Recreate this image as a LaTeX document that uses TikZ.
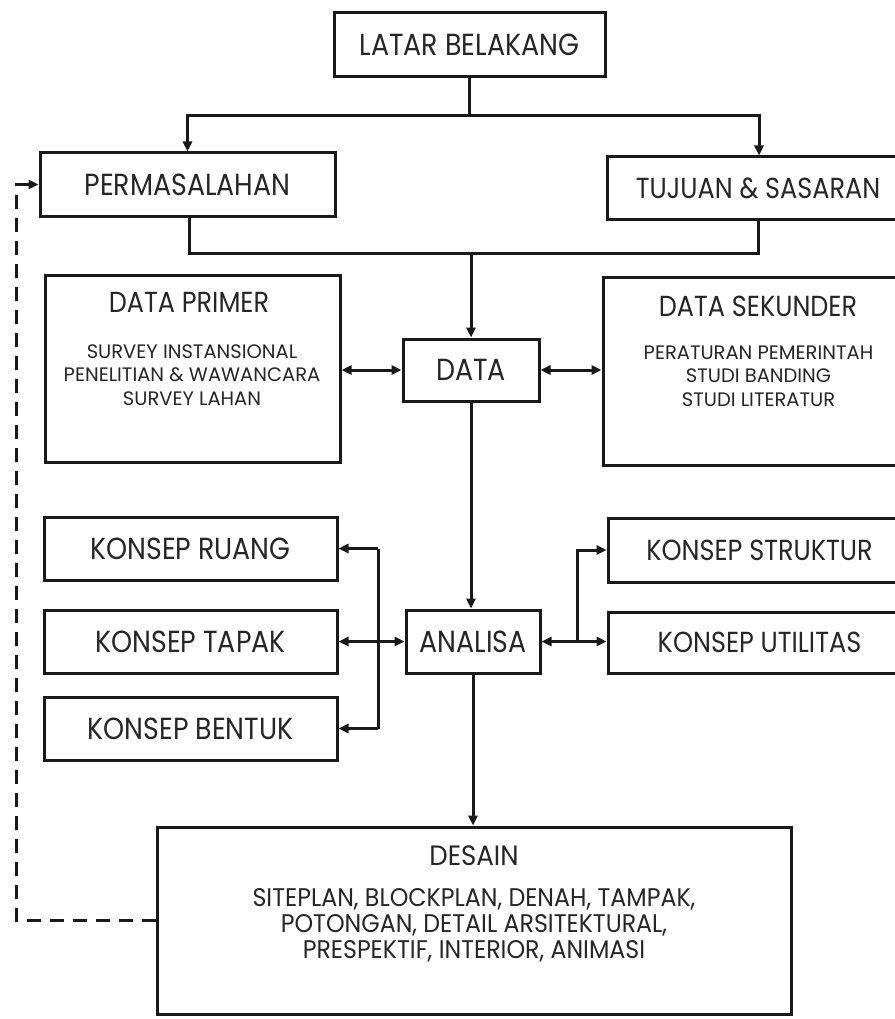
\documentclass[tikz,border=0pt]{standalone}
\usepackage{fontspec}
\setmainfont[FakeStretch=0.88]{Poppins}
\newfontfamily\fsub[FakeStretch=1.0]{Poppins}
\newfontfamily\fdes[FakeStretch=0.93]{Poppins}
\usetikzlibrary{arrows.meta}
\begin{document}
\begin{tikzpicture}[x=1pt,y=-1pt,
  box/.style={draw=black!90, line width=3pt, inner sep=0pt},
  lbl/.style={font=\fontsize{30.5}{34}\selectfont, text=black!85},
  lbls/.style={font=\fontsize{29}{32}\selectfont, text=black!85},
  ttl/.style={font=\fontsize{29}{32}\selectfont, text=black!85},
  sub/.style={font=\fsub\fontsize{19.5}{23.5}\selectfont, text=black!85, align=center},
  dsub/.style={font=\fdes\fontsize{25.5}{26}\selectfont, text=black!85, align=center},
  dttl/.style={font=\fdes\fontsize{28}{30}\selectfont, text=black!85},
  ln/.style={draw=black!90, line width=3pt},
  arr/.style={ln, -{Triangle[length=10pt,width=9pt]}},
  darr/.style={ln, {Triangle[length=10pt,width=9pt]}-{Triangle[length=10pt,width=9pt]}},
  dashln/.style={draw=black!90, line width=3pt, dash pattern=on 14pt off 9pt, -{Triangle[length=10pt,width=9pt]}}
]
\useasboundingbox (0,0) rectangle (894,1019);
\fill[white] (0,0) rectangle (894,1019);

% top level
\node[box, lbl, minimum width=271pt, minimum height=64pt] (latar) at (469.5,45) {LATAR BELAKANG};
\node[box, lbl, minimum width=295pt, minimum height=63pt] (perm) at (187.5,184.5) {PERMASALAHAN};
\node[box, minimum width=298pt, minimum height=62pt] (tujuan) at (756,188) {};
\node[lbls] (tujuantxt) at (758,188) {TUJUAN \& SASARAN};

% data level
\node[box, minimum width=295pt, minimum height=187pt] (dprim) at (192.5,368.5) {};
\node[ttl] (dprimttl) at (189,302) {DATA PRIMER};
\node[sub] (dprimsub) at (192,375) {SURVEY INSTANSIONAL\\PENELITIAN \& WAWANCARA\\SURVEY LAHAN};
\node[box, lbl, minimum width=136pt, minimum height=62pt] (data) at (471,370) {DATA};
\node[box, minimum width=302pt, minimum height=188pt] (dsek) at (754,371) {};
\node[ttl] (dsekttl) at (758,306) {DATA SEKUNDER};
\node[sub] (dseksub) at (758.5,376) {PERATURAN PEMERINTAH\\STUDI BANDING\\STUDI LITERATUR};

% konsep level
\node[box, lbl, minimum width=293pt, minimum height=63pt] (ruang) at (190.5,548.5) {KONSEP RUANG};
\node[box, lbl, minimum width=293pt, minimum height=63pt] (tapak) at (190.5,641.5) {KONSEP TAPAK};
\node[box, lbl, minimum width=293pt, minimum height=63pt] (bentuk) at (190.5,728.5) {KONSEP BENTUK};
\node[box, lbl, minimum width=134pt, minimum height=63pt] (analisa) at (473,641.5) {ANALISA};
\node[box, minimum width=297pt, minimum height=64pt] (struktur) at (756.5,550) {};
\node[lbls] (strukturtxt) at (759.5,550) {KONSEP STRUKTUR};
\node[box, minimum width=297pt, minimum height=61pt] (utilitas) at (756.5,642.5) {};
\node[lbls] (utilitastxt) at (759.5,642.5) {KONSEP UTILITAS};

% desain
\node[box, minimum width=634pt, minimum height=187pt] (desain) at (474,920.5) {};
\node[dttl] (desainttl) at (474,856) {DESAIN};
\node[dsub] (desainsub) at (474,925) {SITEPLAN, BLOCKPLAN, DENAH, TAMPAK,\\POTONGAN, DETAIL ARSITEKTURAL,\\PRESPEKTIF, INTERIOR, ANIMASI};

% coordinates
\coordinate (split) at (469.5,116);
\coordinate (join) at (471,253);
\coordinate (lvx) at (378,0);
\coordinate (rvx) at (577,0);
\coordinate (fb) at (16,184.5);

% connectors
\draw[ln] (latar.south) -- (split);
\draw[arr] (split) -| (perm.north);
\draw[arr] (split) -| ([xshift=3pt]tujuan.north);
\draw[ln] ([xshift=2pt]perm.south) |- (join);
\draw[ln] ([xshift=2pt]tujuan.south) |- (join);
\draw[arr] (join) -- (data.north);
\draw[darr] (dprim.east |- data.west) -- (data.west);
\draw[darr] (data.east) -- (data.east -| dsek.west);
\draw[arr] (data.south) -- (data.south |- analisa.north);

\draw[ln] (lvx |- ruang.east) -- (lvx |- bentuk.east);
\draw[arr] (lvx |- ruang.east) -- (ruang.east);
\draw[arr] (lvx |- bentuk.east) -- (bentuk.east);
\draw[darr] (tapak.east) -- (analisa.west);

\draw[darr] (analisa.east) -- (analisa.east -| utilitas.west);
\draw[arr] (rvx |- analisa.east) |- (struktur.west);

\draw[arr] (analisa.south) -- (analisa.south |- desain.north);

\draw[dashln] (desain.west) -| (fb) -- (perm.west);
\end{tikzpicture}
\end{document}
